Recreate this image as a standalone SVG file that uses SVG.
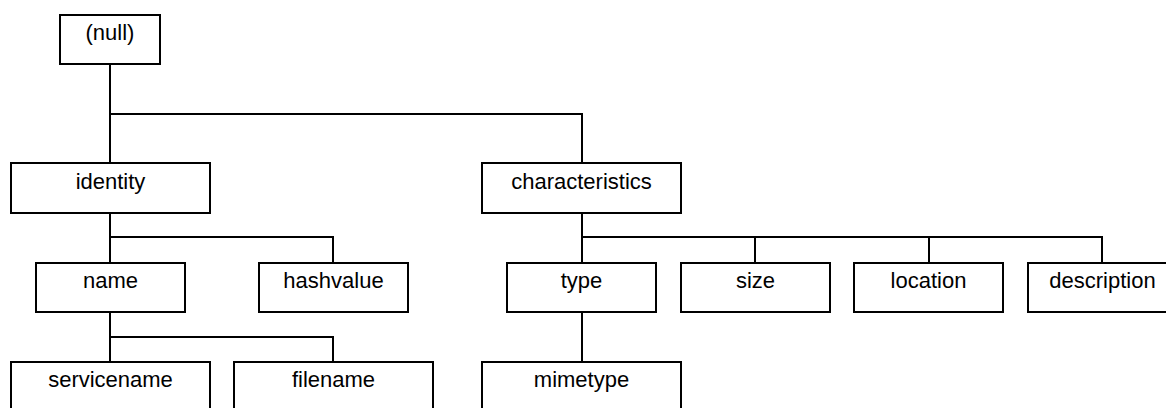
<svg xmlns="http://www.w3.org/2000/svg" width="1166" height="408" viewBox="0 0 1166 408">
<style>
rect{fill:#fff;stroke:#000;stroke-width:2}
text{font-family:"Liberation Sans",Arial,sans-serif;font-size:22px;text-anchor:middle;fill:#000}
#connectors path{fill:none;stroke:#000;stroke-width:2}
</style>
<rect x="0" y="0" width="1166" height="408" style="stroke:none"/>
<g id="connectors">
<path d="M110 64V163M110 114H582V163"/>
<path d="M110 213V263M110 237H333V263"/>
<path d="M582 213V263M582 237H1102V263M755 237V263M929 237V263"/>
<path d="M110 312V362M110 337H333V362"/>
<path d="M582 312V362"/>
</g>
<g id="null"><rect x="60" y="15" width="100" height="49"/><text x="110" y="40">(null)</text></g>
<g id="identity"><rect x="11" y="163" width="199" height="50"/><text x="110.5" y="189">identity</text></g>
<g id="characteristics"><rect x="482" y="163" width="199" height="50"/><text x="581.5" y="189">characteristics</text></g>
<g id="name"><rect x="36" y="263" width="149" height="49"/><text x="110.5" y="288">name</text></g>
<g id="hashvalue"><rect x="259" y="263" width="149" height="49"/><text x="333.5" y="288">hashvalue</text></g>
<g id="type"><rect x="507" y="263" width="149" height="49"/><text x="581.5" y="288">type</text></g>
<g id="size"><rect x="681" y="263" width="149" height="49"/><text x="755.5" y="288">size</text></g>
<g id="location"><rect x="854" y="263" width="149" height="49"/><text x="928.5" y="288">location</text></g>
<g id="description"><rect x="1028" y="263" width="149" height="49"/><text x="1102.5" y="288">description</text></g>
<g id="servicename"><rect x="11" y="362" width="199" height="50"/><text x="110.5" y="387">servicename</text></g>
<g id="filename"><rect x="234" y="362" width="199" height="50"/><text x="333.5" y="387">filename</text></g>
<g id="mimetype"><rect x="482" y="362" width="199" height="50"/><text x="581.5" y="387">mimetype</text></g>
</svg>
